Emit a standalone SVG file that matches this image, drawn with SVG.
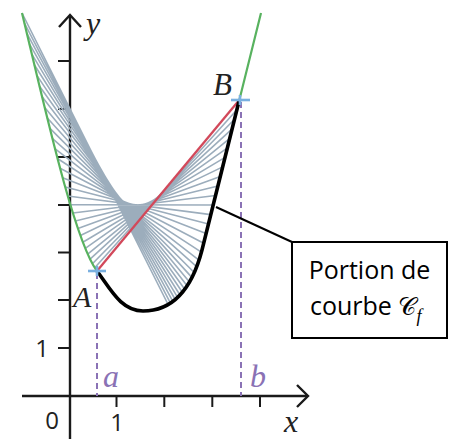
<svg xmlns="http://www.w3.org/2000/svg" width="454" height="439" viewBox="0 0 454 439">
<style>
.axis{stroke:#1a1a1a;stroke-width:2.4;fill:none}
.tick{stroke:#1a1a1a;stroke-width:2}
.gray{stroke:#9cadbc;stroke-width:1.6;fill:none}
.dash{stroke:#8a72b5;stroke-width:2;stroke-dasharray:6 4;fill:none}
.lbl{font-family:"Liberation Serif",serif;font-style:italic;fill:#222}
.pl{font-family:"Liberation Serif",serif;font-style:italic;fill:#8a72b5}
.num{font-family:"Open Sans","Liberation Sans",sans-serif;font-size:24px;fill:#222}
.box{fill:#fff;stroke:#000;stroke-width:2}
.bt{font-family:"Open Sans","Liberation Sans",sans-serif;font-size:25px;fill:#000}
.mk{stroke:#7ab0e0;stroke-width:2.6}
</style>
<rect width="454" height="439" fill="#fff"/>
<g id="axes">
<line class="axis" x1="70" y1="439" x2="70" y2="16"/>
<polyline class="axis" points="59,27 70,15 81,27"/>
<line class="axis" x1="22" y1="396" x2="307" y2="396"/>
<polyline class="axis" points="297,385 308,396 297,407"/>
<line class="tick" x1="58" y1="348" x2="70" y2="348"/>
<line class="tick" x1="58" y1="300" x2="70" y2="300"/>
<line class="tick" x1="58" y1="252.5" x2="70" y2="252.5"/>
<line class="tick" x1="58" y1="205" x2="70" y2="205"/>
<line class="tick" x1="58" y1="157" x2="70" y2="157"/>
<line class="tick" x1="58" y1="109" x2="70" y2="109"/>
<line class="tick" x1="58" y1="61" x2="70" y2="61"/>
<line class="tick" x1="116.5" y1="396" x2="116.5" y2="407"/>
<line class="tick" x1="164.3" y1="396" x2="164.3" y2="407"/>
<line class="tick" x1="212.3" y1="396" x2="212.3" y2="407"/>
<line class="tick" x1="260" y1="396" x2="260" y2="407"/>
<text class="num" x="52" y="429" text-anchor="middle">0</text>
<text class="num" x="42" y="357" text-anchor="middle">1</text>
<text class="num" x="117" y="431" text-anchor="middle" font-size="22">1</text>
<text class="lbl" x="86" y="34" font-size="32">y</text>
<text class="lbl" x="284" y="432" font-size="32">x</text>
</g>
<g id="guides">
<line class="dash" x1="97" y1="273" x2="97" y2="396"/>
<line class="dash" x1="241" y1="102" x2="241" y2="396"/>
<text class="pl" x="103" y="387" font-size="32">a</text>
<text class="pl" x="250" y="387" font-size="32">b</text>
</g>
<g id="chords">
<path class="gray" d="M22,13L168.1,304.5M24.41,23.09L170.47,303.1M26.86,33.34L172.85,301.4M29.32,43.71L175.22,299.5M31.82,54.19L177.59,297.3M34.33,64.75L179.97,295M36.86,75.35L182.34,292.2M39.4,85.97L184.71,289.3M41.96,96.58L187.09,285.7M44.53,107.16L189.46,282M47.11,117.67L191.83,277.4M49.7,128.08L194.21,272.5M52.29,138.38L196.58,266.6M54.88,148.52L198.95,260.2M57.47,158.49L201.33,252.2M60.06,168.25L203.7,243.2M62.65,177.78L206.07,233.6M65.22,187.05L208.45,224.1M67.79,196.02L210.82,214.6M70.35,204.68L213.19,205M72.89,213L215.57,195.5M75.41,220.94L217.94,186M77.92,228.48L220.31,176.4M80.4,235.59L222.69,166.9M82.86,242.25L225.06,157.4M85.3,248.42L227.43,147.8M87.7,254.07L229.81,138.3M90.08,259.19L232.18,128.8M92.42,263.73L234.55,119.2M94.73,267.68L236.93,109.7"/>
<line x1="97" y1="271" x2="239.3" y2="100" stroke="#d2485a" stroke-width="2.3"/>
</g>
<g id="curve">
<path d="M22,13 C46,113 74.5,241 97,271 C110.5,289 121,311 143,311 C172,311 191.6,290 202,250 L261,13" fill="none" stroke="#58b25f" stroke-width="2.2"/>
<path d="M97,271 C110.5,289 121,311 143,311 C172,311 191.6,290 202,250 L239.3,100" fill="none" stroke="#000" stroke-width="3.6"/>
</g>
<g id="points">
<line class="mk" x1="88" y1="271" x2="106" y2="271"/>
<line class="mk" x1="97" y1="266" x2="97" y2="276" stroke-width="2"/>
<line class="mk" x1="231" y1="100" x2="250" y2="100"/>
<line class="mk" x1="240" y1="95" x2="240" y2="105" stroke-width="2"/>
<text class="lbl" x="73" y="307" font-size="30">A</text>
<text class="lbl" x="213" y="95" font-size="31">B</text>
</g>
<g id="connectors">
<line x1="216" y1="207" x2="292" y2="242" stroke="#000" stroke-width="2"/>
</g>
<g id="callout">
<rect class="box" x="292" y="242" width="155" height="96"/>
<text class="bt" x="369.5" y="279" text-anchor="middle">Portion de</text>
<text class="bt" x="310" y="314.5">courbe <tspan font-family="'DejaVu Serif','DejaVu Sans',serif">𝒞</tspan><tspan font-family="'Liberation Serif',serif" font-style="italic" font-size="18" dy="7">f</tspan></text>
</g>
</svg>
